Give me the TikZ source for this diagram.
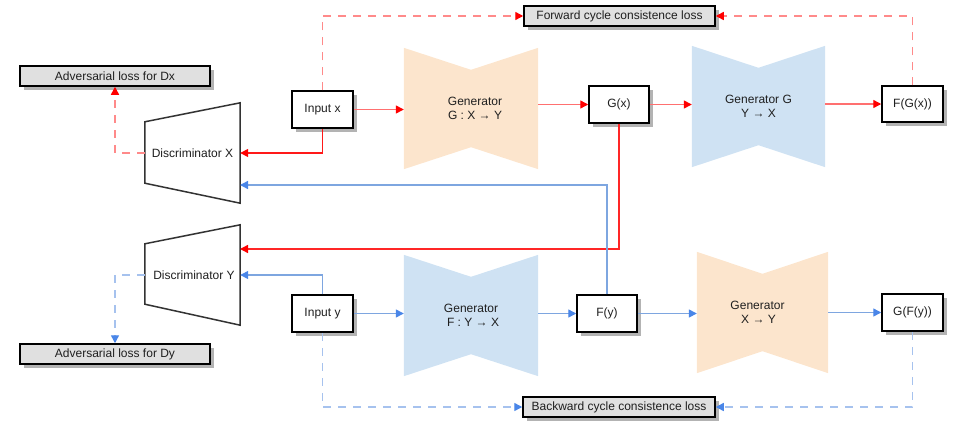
\documentclass[tikz,border=0pt]{standalone}
\usepackage{fontspec}
\setmainfont{Liberation Sans}
\usetikzlibrary{arrows.meta,shadows,calc,backgrounds}
\definecolor{rline}{HTML}{FF7070}
\definecolor{rdash}{HTML}{FF8A8A}
\definecolor{rhead}{HTML}{FF0000}
\definecolor{bline}{HTML}{7EA6E0}
\definecolor{bdash}{HTML}{A6C2EE}
\definecolor{bhead}{HTML}{4A86E8}
\definecolor{orangefill}{HTML}{FCE5CD}
\definecolor{bluefill}{HTML}{CFE2F3}
\definecolor{lossfill}{HTML}{E0E0E0}
\definecolor{shadowc}{HTML}{B3B3B3}
\begin{document}
\begin{tikzpicture}[x=1pt,y=-1pt,
 every node/.style={font=\fontsize{12}{14}\selectfont, inner sep=0pt, text=black!88},
 box/.style={draw=black, line width=1.5pt, fill=white, minimum width=61pt, minimum height=37pt,
   drop shadow={shadow xshift=4pt,shadow yshift=-4pt,fill=shadowc,opacity=1}},
 lossbox/.style={box, fill=lossfill, minimum width=191pt, minimum height=20pt},
 gen/.style={minimum width=134pt, minimum height=121pt, align=center},
 disc/.style={minimum width=95pt, minimum height=100pt},
 rarr/.style={draw=rline, line width=1.4pt, -{Triangle[length=8pt,width=8pt,color=rhead]}},
 barr/.style={draw=bline, line width=1.4pt, -{Triangle[length=8pt,width=8pt,color=bhead]}},
 rdsh/.style={draw=rdash, dash pattern=on 8pt off 7pt},
 bdsh/.style={draw=bdash, dash pattern=on 8pt off 7pt},
 shapeline/.style={draw=black!80, line width=1.5pt, fill=white}
]
\useasboundingbox (0,0) rectangle (963,439);

% loss boxes
\node[lossbox, minimum width=190pt] (adx) at (115,76) {Adversarial loss for Dx};
\node[lossbox, minimum width=190pt] (ady) at (115,354) {Adversarial loss for Dy};
\node[lossbox] (fwd) at (619.5,16) {Forward cycle consistence loss};
\node[lossbox, minimum width=192pt] (bwd) at (619,407) {Backward cycle consistence loss};

% boxes
\node[box] (ix) at (322.5,109.5) {Input x};
\node[box] (iy) at (322.5,313.5) {Input y};
\node[box, minimum width=60pt] (gx) at (619,104.5) {G(x)};
\node[box, minimum height=36pt] (fgx) at (912.5,104) {F(G(x))};
\node[box, minimum width=60pt] (fy) at (607,313.5) {F(y)};
\node[box] (gfy) at (912.5,312.5) {G(F(y))};

% discriminators
\node[disc] (dx) at (192.5,153) {Discriminator X};
\node[disc] (dy) at (192.5,275) {\hspace{3pt}Discriminator Y};

% generators
\node[gen] (g1) at (471,108.5) {\hspace{8pt}Generator\\\hspace{8pt}G : X → Y};
\node[gen, minimum width=133pt] (g2) at (758.5,106.5) {Generator G\\Y → X};
\node[gen] (g3) at (471,315.5) {Generator\\\hspace{4pt}F : Y → X};
\node[gen, minimum width=131pt] (g4) at (762.5,312.5) {\hspace{-10pt}Generator\\\hspace{-8pt}X → Y};

\begin{scope}[on background layer]
 \fill[orangefill] (g1.north west) -- ($(g1.north)+(0,22)$) -- (g1.north east) -- (g1.south east) -- ($(g1.south)+(0,-22)$) -- (g1.south west) -- cycle;
 \fill[bluefill] (g2.north west) -- ($(g2.north)+(0,22)$) -- (g2.north east) -- (g2.south east) -- ($(g2.south)+(0,-22)$) -- (g2.south west) -- cycle;
 \fill[bluefill] (g3.north west) -- ($(g3.north)+(0,22)$) -- (g3.north east) -- (g3.south east) -- ($(g3.south)+(0,-22)$) -- (g3.south west) -- cycle;
 \fill[orangefill] (g4.north west) -- ($(g4.north)+(0,22)$) -- (g4.north east) -- (g4.south east) -- ($(g4.south)+(0,-22)$) -- (g4.south west) -- cycle;
 \draw[shapeline] (dx.north east) -- (dx.south east) -- ($(dx.south west)+(0,-20)$) -- ($(dx.north west)+(0,19)$) -- cycle;
 \draw[shapeline] (dy.north east) -- (dy.south east) -- ($(dy.south west)+(0,-21)$) -- ($(dy.north west)+(0,19)$) -- cycle;
\end{scope}

\coordinate (dxin2) at (240,185);
\coordinate (dyin1) at (240,249);

% forward (red) path
\draw[rarr] (ix.east) -- (ix.east -| g1.west);
\draw[rarr] (g1.east |- gx.west) -- (gx.west);
\draw[rarr] (gx.east) -- (gx.east -| g2.west);
\draw[rarr] (g2.east |- fgx.west) -- (fgx.west);
\draw[rarr, rdsh] (ix.north) |- (fwd.west);
\draw[rarr, rdsh] (fgx.north) |- (fwd.east);
\draw[rarr, draw=red!90] (ix.south) |- (dx.east);
\draw[rarr, rdsh] (dx.west) -| (adx.south);
\draw[rarr, draw=red!85] (gx.south) |- (dyin1);

% backward (blue) path
\draw[barr] (iy.east) -- (iy.east -| g3.west);
\draw[barr] (g3.east |- fy.west) -- (fy.west);
\draw[barr] (fy.east) -- (fy.east -| g4.west);
\draw[barr] (g4.east |- gfy.west) -- (gfy.west);
\draw[barr, bdsh] (iy.south) |- (bwd.west);
\draw[barr, bdsh] (gfy.south) |- (bwd.east);
\draw[barr] (iy.north) |- (dy.east);
\draw[barr, bdsh] (dy.west) -| (ady.north);
\draw[barr] (fy.north) |- (dxin2);
\end{tikzpicture}
\end{document}
